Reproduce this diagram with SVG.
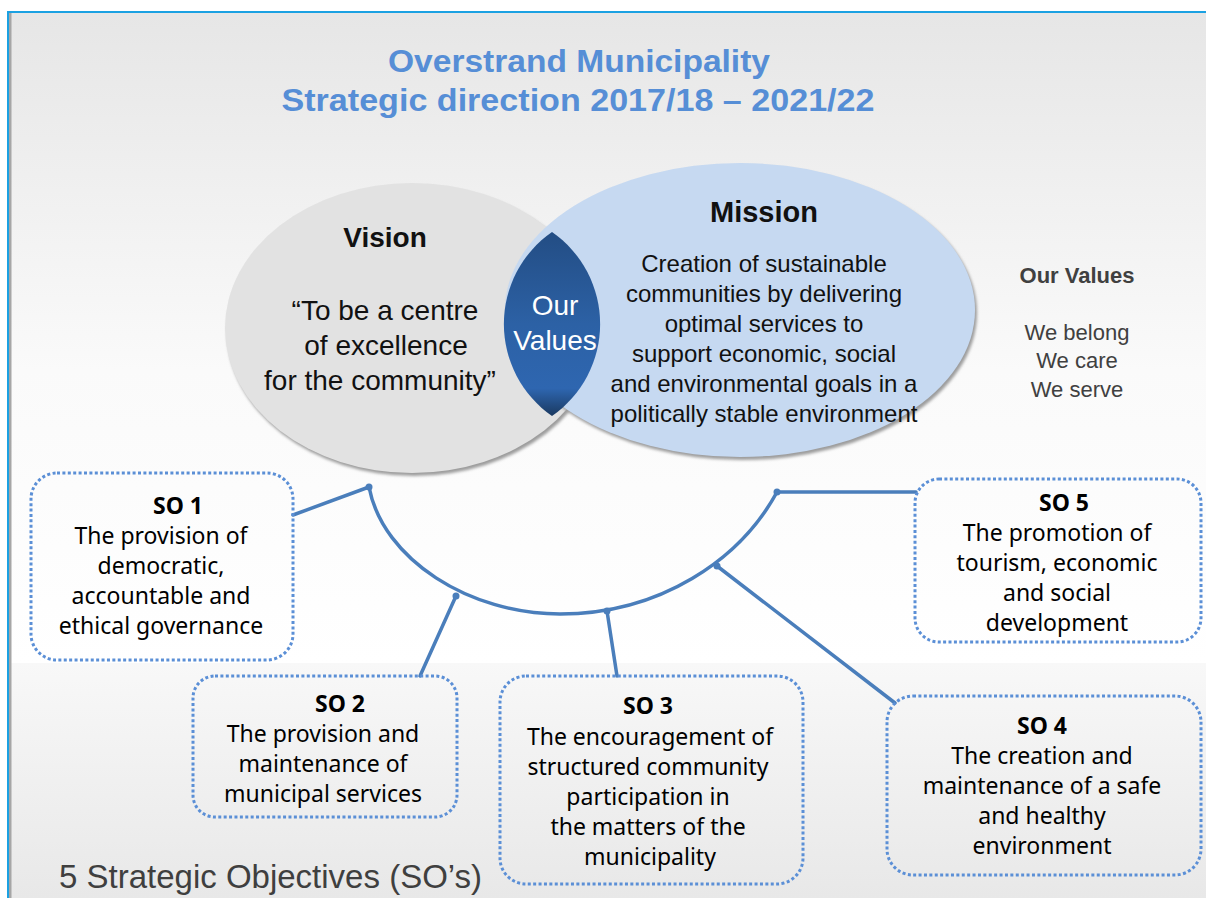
<svg xmlns="http://www.w3.org/2000/svg" width="1206" height="898" viewBox="0 0 1206 898">
<defs>
  <linearGradient id="bgTop" x1="0" y1="0" x2="0" y2="1">
    <stop offset="0" stop-color="#e6e6e6"/>
    <stop offset="0.55" stop-color="#fafafa"/>
    <stop offset="1" stop-color="#ffffff"/>
  </linearGradient>
  <linearGradient id="bgBot" x1="0" y1="0" x2="0" y2="1">
    <stop offset="0" stop-color="#f8f8f8"/>
    <stop offset="1" stop-color="#e8e8e8"/>
  </linearGradient>
  <linearGradient id="lensGrad" x1="0" y1="0" x2="0" y2="1">
    <stop offset="0" stop-color="#234d84"/>
    <stop offset="0.5" stop-color="#2c61a5"/>
    <stop offset="0.85" stop-color="#2e66b0"/>
    <stop offset="1" stop-color="#1a3960"/>
  </linearGradient>
  <filter id="blur" x="-10%" y="-10%" width="120%" height="120%">
    <feGaussianBlur stdDeviation="1.8"/>
  </filter>
  <style>
    .title { font-family: "Liberation Sans", Arial, sans-serif; font-weight: bold; font-size: 31px; fill: #568ed6; text-anchor: middle; }
    .big { font-family: "Liberation Sans", Arial, sans-serif; text-anchor: middle; fill: #111; }
    .vals { font-family: "Liberation Sans", Arial, sans-serif; text-anchor: middle; fill: #404040; font-size: 22px; }
    .so { font-family: "Noto Sans", "Open Sans", sans-serif; font-size: 23px; fill: #000; text-anchor: middle; }
    .sob { font-weight: bold; }
    .box { fill: none; stroke: #5b8fd6; stroke-width: 3; stroke-dasharray: 3 2.4; }
    .conn { fill: none; stroke: #4a7ebb; stroke-width: 3.5; stroke-linecap: round; }
    .dot { fill: #4a7ebb; }
  </style>
</defs>

<!-- background frame -->
<rect x="0" y="0" width="1206" height="898" fill="#ffffff"/>
<rect x="8" y="12" width="1198" height="652" fill="url(#bgTop)"/>
<rect x="8" y="663" width="1198" height="235" fill="url(#bgBot)"/>
<rect x="9" y="13" width="2.5" height="885" fill="#a6a6a6"/>
<rect x="7" y="11" width="1199" height="2" fill="#1ba1e2"/>
<rect x="7" y="11" width="2" height="887" fill="#1ba1e2"/>

<!-- title -->
<g id="title">
  <text class="title" x="579" y="72" textLength="382" lengthAdjust="spacingAndGlyphs">Overstrand Municipality</text>
  <text class="title" x="578" y="111" textLength="593" lengthAdjust="spacingAndGlyphs">Strategic direction 2017/18 – 2021/22</text>
</g>

<!-- vision -->
<g id="vision">
  <ellipse cx="414" cy="331" rx="187" ry="145" fill="#9c9c9c" filter="url(#blur)"/>
  <ellipse cx="412" cy="328" rx="187" ry="145" fill="#e2e2e2"/>
  <text class="big" x="385" y="247" font-size="28" font-weight="bold">Vision</text>
  <text class="big" x="385" y="320" font-size="28">“To be a centre</text>
  <text class="big" x="386" y="355" font-size="28">of excellence</text>
  <text class="big" x="380" y="390" font-size="28">for the community”</text>
</g>

<!-- mission -->
<g id="mission">
  <ellipse cx="742" cy="313" rx="235" ry="147" fill="#9c9c9c" filter="url(#blur)"/>
  <ellipse cx="740" cy="310" rx="235" ry="147" fill="#c6d9f1"/>
  <text class="big" x="764" y="222" font-size="29" font-weight="bold">Mission</text>
  <text class="big" x="764" y="272" font-size="24">Creation of sustainable</text>
  <text class="big" x="764" y="302" font-size="24">communities  by delivering</text>
  <text class="big" x="764" y="332" font-size="24">optimal services to</text>
  <text class="big" x="764" y="362" font-size="24">support economic, social</text>
  <text class="big" x="764" y="392" font-size="24">and environmental  goals in a</text>
  <text class="big" x="764" y="422" font-size="24">politically stable environment</text>
</g>

<!-- our values lens -->
<g id="values-lens">
  <path d="M552,232 A112,112 0 0 0 552,416 A112,112 0 0 0 552,232 Z" fill="url(#lensGrad)"/>
  <text class="big" x="555" y="315" font-size="28" fill="#ffffff" style="fill:#ffffff">Our</text>
  <text class="big" x="555" y="350" font-size="28" style="fill:#ffffff">Values</text>
</g>

<!-- our values list -->
<g id="our-values">
  <text class="vals" x="1077" y="283" font-weight="bold">Our Values</text>
  <text class="vals" x="1077" y="340">We belong</text>
  <text class="vals" x="1077" y="368">We care</text>
  <text class="vals" x="1077" y="397">We serve</text>
</g>

<!-- connectors -->
<g id="connectors">
  <path class="conn" d="M369,487 C383,560 470,614 560,614 C660,614 740,560 777,492"/>
  <line class="conn" x1="293" y1="515" x2="369" y2="487"/>
  <line class="conn" x1="456" y1="596" x2="420" y2="676"/>
  <line class="conn" x1="607" y1="611" x2="617" y2="676"/>
  <line class="conn" x1="717" y1="566" x2="895" y2="703"/>
  <line class="conn" x1="777" y1="492" x2="916" y2="492"/>
  <circle class="dot" cx="369" cy="487" r="3.5"/>
  <circle class="dot" cx="456" cy="596" r="3.5"/>
  <circle class="dot" cx="607" cy="611" r="3.5"/>
  <circle class="dot" cx="717" cy="566" r="3.5"/>
  <circle class="dot" cx="777" cy="492" r="3.5"/>
</g>

<!-- SO 1 -->
<g id="so1">
  <rect class="box" x="31" y="473" width="262" height="187" rx="26"/>
  <text class="so sob" x="178" y="514">SO 1</text>
  <text class="so" x="161" y="544">The provision of</text>
  <text class="so" x="161" y="574">democratic,</text>
  <text class="so" x="161" y="604">accountable and</text>
  <text class="so" x="161" y="634">ethical governance</text>
</g>

<!-- SO 2 -->
<g id="so2">
  <rect class="box" x="193" y="676" width="264" height="141" rx="22"/>
  <text class="so sob" x="340" y="712">SO 2</text>
  <text class="so" x="323" y="742">The provision and</text>
  <text class="so" x="323" y="772">maintenance of</text>
  <text class="so" x="323" y="802">municipal services</text>
</g>

<!-- SO 3 -->
<g id="so3">
  <rect class="box" x="500" y="676" width="303" height="208" rx="26"/>
  <text class="so sob" x="648" y="714">SO 3</text>
  <text class="so" x="650" y="745">The encouragement of</text>
  <text class="so" x="648" y="775">structured community</text>
  <text class="so" x="648" y="805">participation in</text>
  <text class="so" x="648" y="835">the matters of the</text>
  <text class="so" x="650" y="865">municipality</text>
</g>

<!-- SO 4 -->
<g id="so4">
  <rect class="box" x="887" y="696" width="314" height="179" rx="26"/>
  <text class="so sob" x="1042" y="734">SO 4</text>
  <text class="so" x="1042" y="764">The creation and</text>
  <text class="so" x="1042" y="794">maintenance of a safe</text>
  <text class="so" x="1042" y="824">and healthy</text>
  <text class="so" x="1042" y="854">environment</text>
</g>

<!-- SO 5 -->
<g id="so5">
  <rect class="box" x="915" y="479" width="286" height="163" rx="24"/>
  <text class="so sob" x="1064" y="511">SO 5</text>
  <text class="so" x="1057" y="541">The promotion of</text>
  <text class="so" x="1057" y="571">tourism, economic</text>
  <text class="so" x="1057" y="601">and social</text>
  <text class="so" x="1057" y="631">development</text>
</g>

<!-- footer -->
<g id="footer">
  <text x="59" y="888" font-family="Liberation Sans, Arial, sans-serif" font-size="33" fill="#3f3f3f">5 Strategic Objectives (SO’s)</text>
</g>
</svg>
